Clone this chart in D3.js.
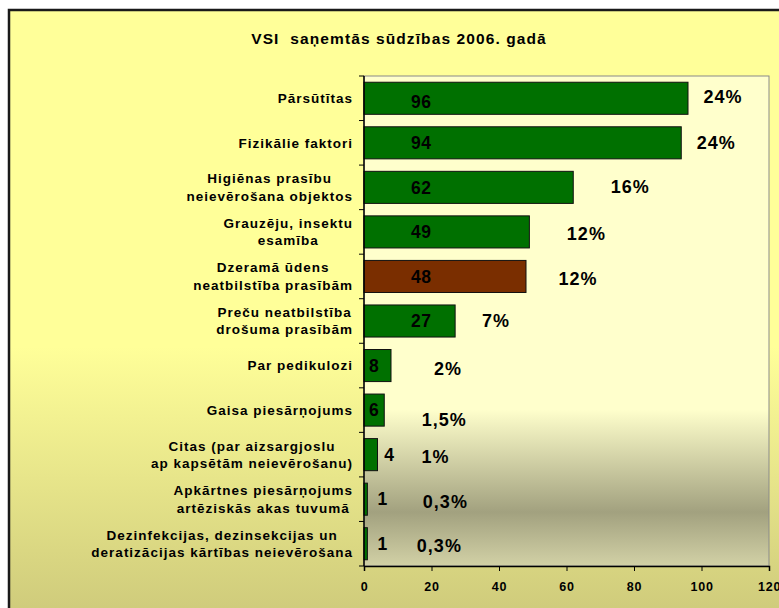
<!DOCTYPE html>
<html>
<head>
<meta charset="utf-8">
<script src="https://cdn.jsdelivr.net/npm/d3@7/dist/d3.min.js"></script>
<style>
  html, body { margin: 0; padding: 0; background: #ffffff; }
  svg { display: block; font-family: "Liberation Sans", Arial, sans-serif; }
</style>
</head>
<body>
<svg id="chart" width="779" height="608"></svg>
<script>
// ---- data ----
const title = "VSI  saņemtās sūdzības 2006. gadā";
const categories = [
  ["Pārsūtītas"],
  ["Fizikālie faktori"],
  ["Higiēnas prasību", "neievērošana objektos"],
  ["Grauzēju, insektu", "esamība"],
  ["Dzeramā ūdens", "neatbilstība prasībām"],
  ["Preču neatbilstība", "drošuma prasībām"],
  ["Par pedikulozi"],
  ["Gaisa piesārņojums"],
  ["Citas (par aizsargjoslu", "ap kapsētām neievērošanu)"],
  ["Apkārtnes piesārņojums", "artēziskās akas tuvumā"],
  ["Dezinfekcijas, dezinsekcijas un", "deratizācijas kārtības neievērošana"]
];
const values = [96, 94, 62, 49, 48, 27, 8, 6, 4, 1, 1];
const percentLabels = ["24%", "24%", "16%", "12%", "12%", "7%", "2%", "1,5%", "1%", "0,3%", "0,3%"];
const highlighted = [false, false, false, false, true, false, false, false, false, false, false];
const xTicks = [0, 20, 40, 60, 80, 100, 120];

// ---- layout ----
const svg = d3.select("#chart");
const plot = { left: 364, right: 769, top: 76, bottom: 566 };
// placement tweaks for percentage labels (pixels from bar end / band centre)
const pctDx = [35, 35, 57, 57, 52, 41, 57, 60, 58, 78, 72];
const pctDy = [-2, 0, -1, 2, 2.5, 0, 2.5, 9, 2, 2.5, 1.3];

const defs = svg.append("defs");
const bgGrad = defs.append("linearGradient").attr("id", "bgGrad")
  .attr("x1", 0).attr("y1", 0).attr("x2", 0).attr("y2", 1);
bgGrad.append("stop").attr("offset", "0").attr("stop-color", "#FFFF99");
bgGrad.append("stop").attr("offset", "0.55").attr("stop-color", "#FFFF99");
bgGrad.append("stop").attr("offset", "1").attr("stop-color", "#CDC97A");

const plotGrad = defs.append("linearGradient").attr("id", "plotGrad")
  .attr("x1", 0).attr("y1", 0).attr("x2", 0).attr("y2", 1);
plotGrad.append("stop").attr("offset", "0").attr("stop-color", "#FFFFCC");
plotGrad.append("stop").attr("offset", "0.68").attr("stop-color", "#FFFFCC");
plotGrad.append("stop").attr("offset", "0.89").attr("stop-color", "#A2A17F");
plotGrad.append("stop").attr("offset", "1").attr("stop-color", "#D2D1A6");

// outer chart frame
svg.append("rect")
  .attr("x", 9).attr("y", 10).attr("width", 792).attr("height", 612)
  .attr("fill", "url(#bgGrad)").attr("stroke", "#1a1a1a").attr("stroke-width", 2.5);

// title
svg.append("text")
  .attr("x", 399).attr("y", 43.5)
  .attr("text-anchor", "middle")
  .attr("font-size", "15.5px").attr("font-weight", "bold")
  .attr("letter-spacing", "1.1px")
  .attr("fill", "#000")
  .style("white-space", "pre")
  .text(title);

// plot area
svg.append("rect")
  .attr("x", plot.left).attr("y", plot.top)
  .attr("width", plot.right - plot.left).attr("height", plot.bottom - plot.top)
  .attr("fill", "url(#plotGrad)").attr("stroke", "#8a8a8a").attr("stroke-width", 1);

const x = d3.scaleLinear().domain([0, 120]).range([plot.left, plot.right]);
const y = d3.scaleBand().domain(d3.range(values.length))
  .range([plot.top, plot.bottom]).paddingInner(0.28).paddingOuter(0.14);
const step = y.step();

// bars
svg.append("g").selectAll("rect")
  .data(values)
  .join("rect")
  .attr("x", x(0))
  .attr("y", (d, i) => y(i))
  .attr("width", d => x(d) - x(0))
  .attr("height", y.bandwidth())
  .attr("fill", (d, i) => highlighted[i] ? "#7A2E00" : "#007000")
  .attr("stroke", "#111").attr("stroke-width", 1);

// x axis
const xAxis = svg.append("g")
  .attr("transform", `translate(0,${plot.bottom})`)
  .call(d3.axisBottom(x).tickValues(xTicks).tickSize(5).tickPadding(11));
xAxis.select(".domain").attr("stroke", "#000").attr("stroke-width", 1.5);
xAxis.selectAll(".tick line").attr("stroke", "#000").attr("stroke-width", 1);
xAxis.selectAll("text")
  .attr("font-size", "12.5px").attr("font-weight", "bold")
  .attr("letter-spacing", "0.8px")
  .attr("font-family", "'Liberation Sans', Arial, sans-serif")
  .attr("fill", "#000");

// y axis line and boundary ticks
svg.append("line")
  .attr("x1", plot.left).attr("x2", plot.left)
  .attr("y1", plot.top).attr("y2", plot.bottom)
  .attr("stroke", "#000").attr("stroke-width", 1.5);
const boundaries = d3.range(values.length + 1).map(k => plot.top + k * step);
svg.append("g").selectAll("line")
  .data(boundaries)
  .join("line")
  .attr("x1", plot.left - 5).attr("x2", plot.left)
  .attr("y1", d => d).attr("y2", d => d)
  .attr("stroke", "#000").attr("stroke-width", 1);

// category labels (multi-line, centred block, right aligned)
const labelRight = 353;
const lineH = 17.4;
categories.forEach((lines, i) => {
  const cy = y(i) + y.bandwidth() / 2;
  const t = svg.append("text")
    .attr("font-size", "13.5px").attr("font-weight", "bold")
    .attr("letter-spacing", "1px")
    .attr("fill", "#000")
    .attr("text-anchor", "middle");
  const spans = lines.map((ln, j) => t.append("tspan")
    .attr("y", cy + (j - (lines.length - 1) / 2) * lineH)
    .attr("dy", "0.35em")
    .text(ln));
  const w = d3.max(spans, s => s.node().getComputedTextLength());
  spans.forEach(s => s.attr("x", labelRight - w / 2));
});

// value labels
svg.append("g").selectAll("text")
  .data(values)
  .join("text")
  .attr("x", d => d >= 20 ? x(17) : (d >= 6 ? x(3) : Math.max(x(d) + 12, x(5.5))))
  .attr("y", (d, i) => y(i) + y.bandwidth() / 2 + (i === 0 ? 3 : 0))
  .attr("dy", "0.36em")
  .attr("text-anchor", "middle")
  .attr("font-size", "17.5px").attr("font-weight", "bold")
  .attr("letter-spacing", "0.6px")
  .attr("fill", "#000")
  .text(d => d);

// percentage labels
svg.append("g").selectAll("text")
  .data(percentLabels)
  .join("text")
  .attr("x", (d, i) => x(values[i]) + pctDx[i])
  .attr("y", (d, i) => y(i) + y.bandwidth() / 2 + pctDy[i])
  .attr("dy", "0.36em")
  .attr("text-anchor", "middle")
  .attr("font-size", "18px").attr("font-weight", "bold")
  .attr("letter-spacing", "1px")
  .attr("fill", "#000")
  .text(d => d);
</script>
</body>
</html>
